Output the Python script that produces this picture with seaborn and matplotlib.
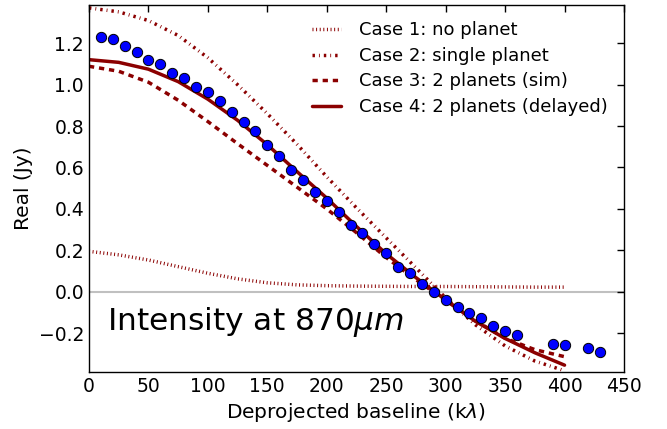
"""
Real part of the visibilities at 870 micron vs deprojected baseline
"""

import matplotlib
matplotlib.use("Agg")
import matplotlib.pyplot as plt
import seaborn as sns
import pandas as pd


# Observed visibilities (blue points)
obs_baseline = [10, 20, 30, 40, 50, 60, 70, 80, 90, 100, 110, 120, 130, 140, 150,
                160, 170, 180, 190, 200, 210, 220, 230, 240, 250, 260, 270, 280,
                290, 300, 310, 320, 330, 340, 350, 360, 390, 400, 420, 430]
obs_real = [1.231, 1.223, 1.186, 1.158, 1.119, 1.098, 1.055, 1.032, 0.990, 0.966,
            0.923, 0.866, 0.818, 0.774, 0.710, 0.655, 0.590, 0.540, 0.481, 0.440,
            0.386, 0.324, 0.282, 0.229, 0.186, 0.121, 0.089, 0.036, 0.000, -0.042,
            -0.073, -0.103, -0.129, -0.168, -0.190, -0.209, -0.255, -0.257, -0.271,
            -0.292]

# Model curves
model_baseline = [0, 25, 50, 75, 100, 125, 150, 175, 200, 225, 250, 275, 300,
                  325, 350, 375, 400]
case1 = [0.195, 0.178, 0.153, 0.121, 0.089, 0.062, 0.043, 0.033, 0.029, 0.027,
         0.026, 0.025, 0.025, 0.024, 0.023, 0.022, 0.022]
case2 = [1.371, 1.352, 1.310, 1.238, 1.130, 1.000, 0.860, 0.712, 0.555, 0.405,
         0.260, 0.115, -0.030, -0.160, -0.262, -0.335, -0.382]
case3 = [1.089, 1.065, 1.012, 0.925, 0.822, 0.715, 0.610, 0.505, 0.400, 0.285,
         0.165, 0.058, -0.042, -0.140, -0.225, -0.280, -0.314]
case4 = [1.121, 1.108, 1.075, 1.015, 0.930, 0.828, 0.710, 0.580, 0.452, 0.315,
         0.183, 0.068, -0.040, -0.143, -0.226, -0.295, -0.355]

labels = ["Case 1: no planet", "Case 2: single planet",
          "Case 3: 2 planets (sim)", "Case 4: 2 planets (delayed)"]

sns.set_style("white")
plt.rcParams["lines.scale_dashes"] = False
plt.rcParams["font.family"] = ["DejaVu Sans"]
plt.rcParams["mathtext.fontset"] = "dejavusans"
for key in ["text.color", "axes.labelcolor", "xtick.color", "ytick.color"]:
    plt.rcParams[key] = "black"

fig = plt.figure(figsize=(6.67, 4.29), dpi=100)
ax = fig.add_axes([0.1334, 0.1329, 0.8021, 0.8554])

ax.axhline(0, color="#c0c0c0", lw=1.5, zorder=0)

df = pd.DataFrame({"x": model_baseline, "c1": case1, "c2": case2,
                   "c3": case3, "c4": case4})
styles = [
    ("c1", (0, (0.7, 1.9))),
    ("c2", (0, (1.75, 2.9, 0.6, 2.9))),
    ("c3", (0, (3.8, 3.5))),
    ("c4", "-"),
]
for (col, ls), lab in zip(styles, labels):
    sns.lineplot(data=df, x="x", y=col, ax=ax, color="darkred", lw=2.5,
                 linestyle=ls, label=lab, errorbar=None)

sns.scatterplot(x=obs_baseline, y=obs_real, ax=ax, color="blue", s=55,
                edgecolor="black", linewidth=0.7, zorder=5)

ax.text(15, -0.148, r"Intensity at 870$\mu m$", fontsize=22.5, va="center")

ax.set_xlim(0, 450)
ax.set_ylim(-0.388, 1.385)
ax.set_xticks(range(0, 451, 50))
ax.set_yticks([-0.2, 0.0, 0.2, 0.4, 0.6, 0.8, 1.0, 1.2])
ax.set_xlabel(r"Deprojected baseline (k$\lambda$)", fontsize=14.5)
ax.set_ylabel("Real (Jy)", fontsize=14.5)
ax.tick_params(direction="in", top=True, right=True, length=5, width=1,
               labelsize=13.5, color="black")
for sp in ax.spines.values():
    sp.set_color("black")
    sp.set_linewidth(1)

ax.legend(loc="upper right", frameon=False, fontsize=13, handlelength=1.6,
          handletextpad=1.0, labelspacing=0.42)

fig.savefig("out.png", dpi=100)
